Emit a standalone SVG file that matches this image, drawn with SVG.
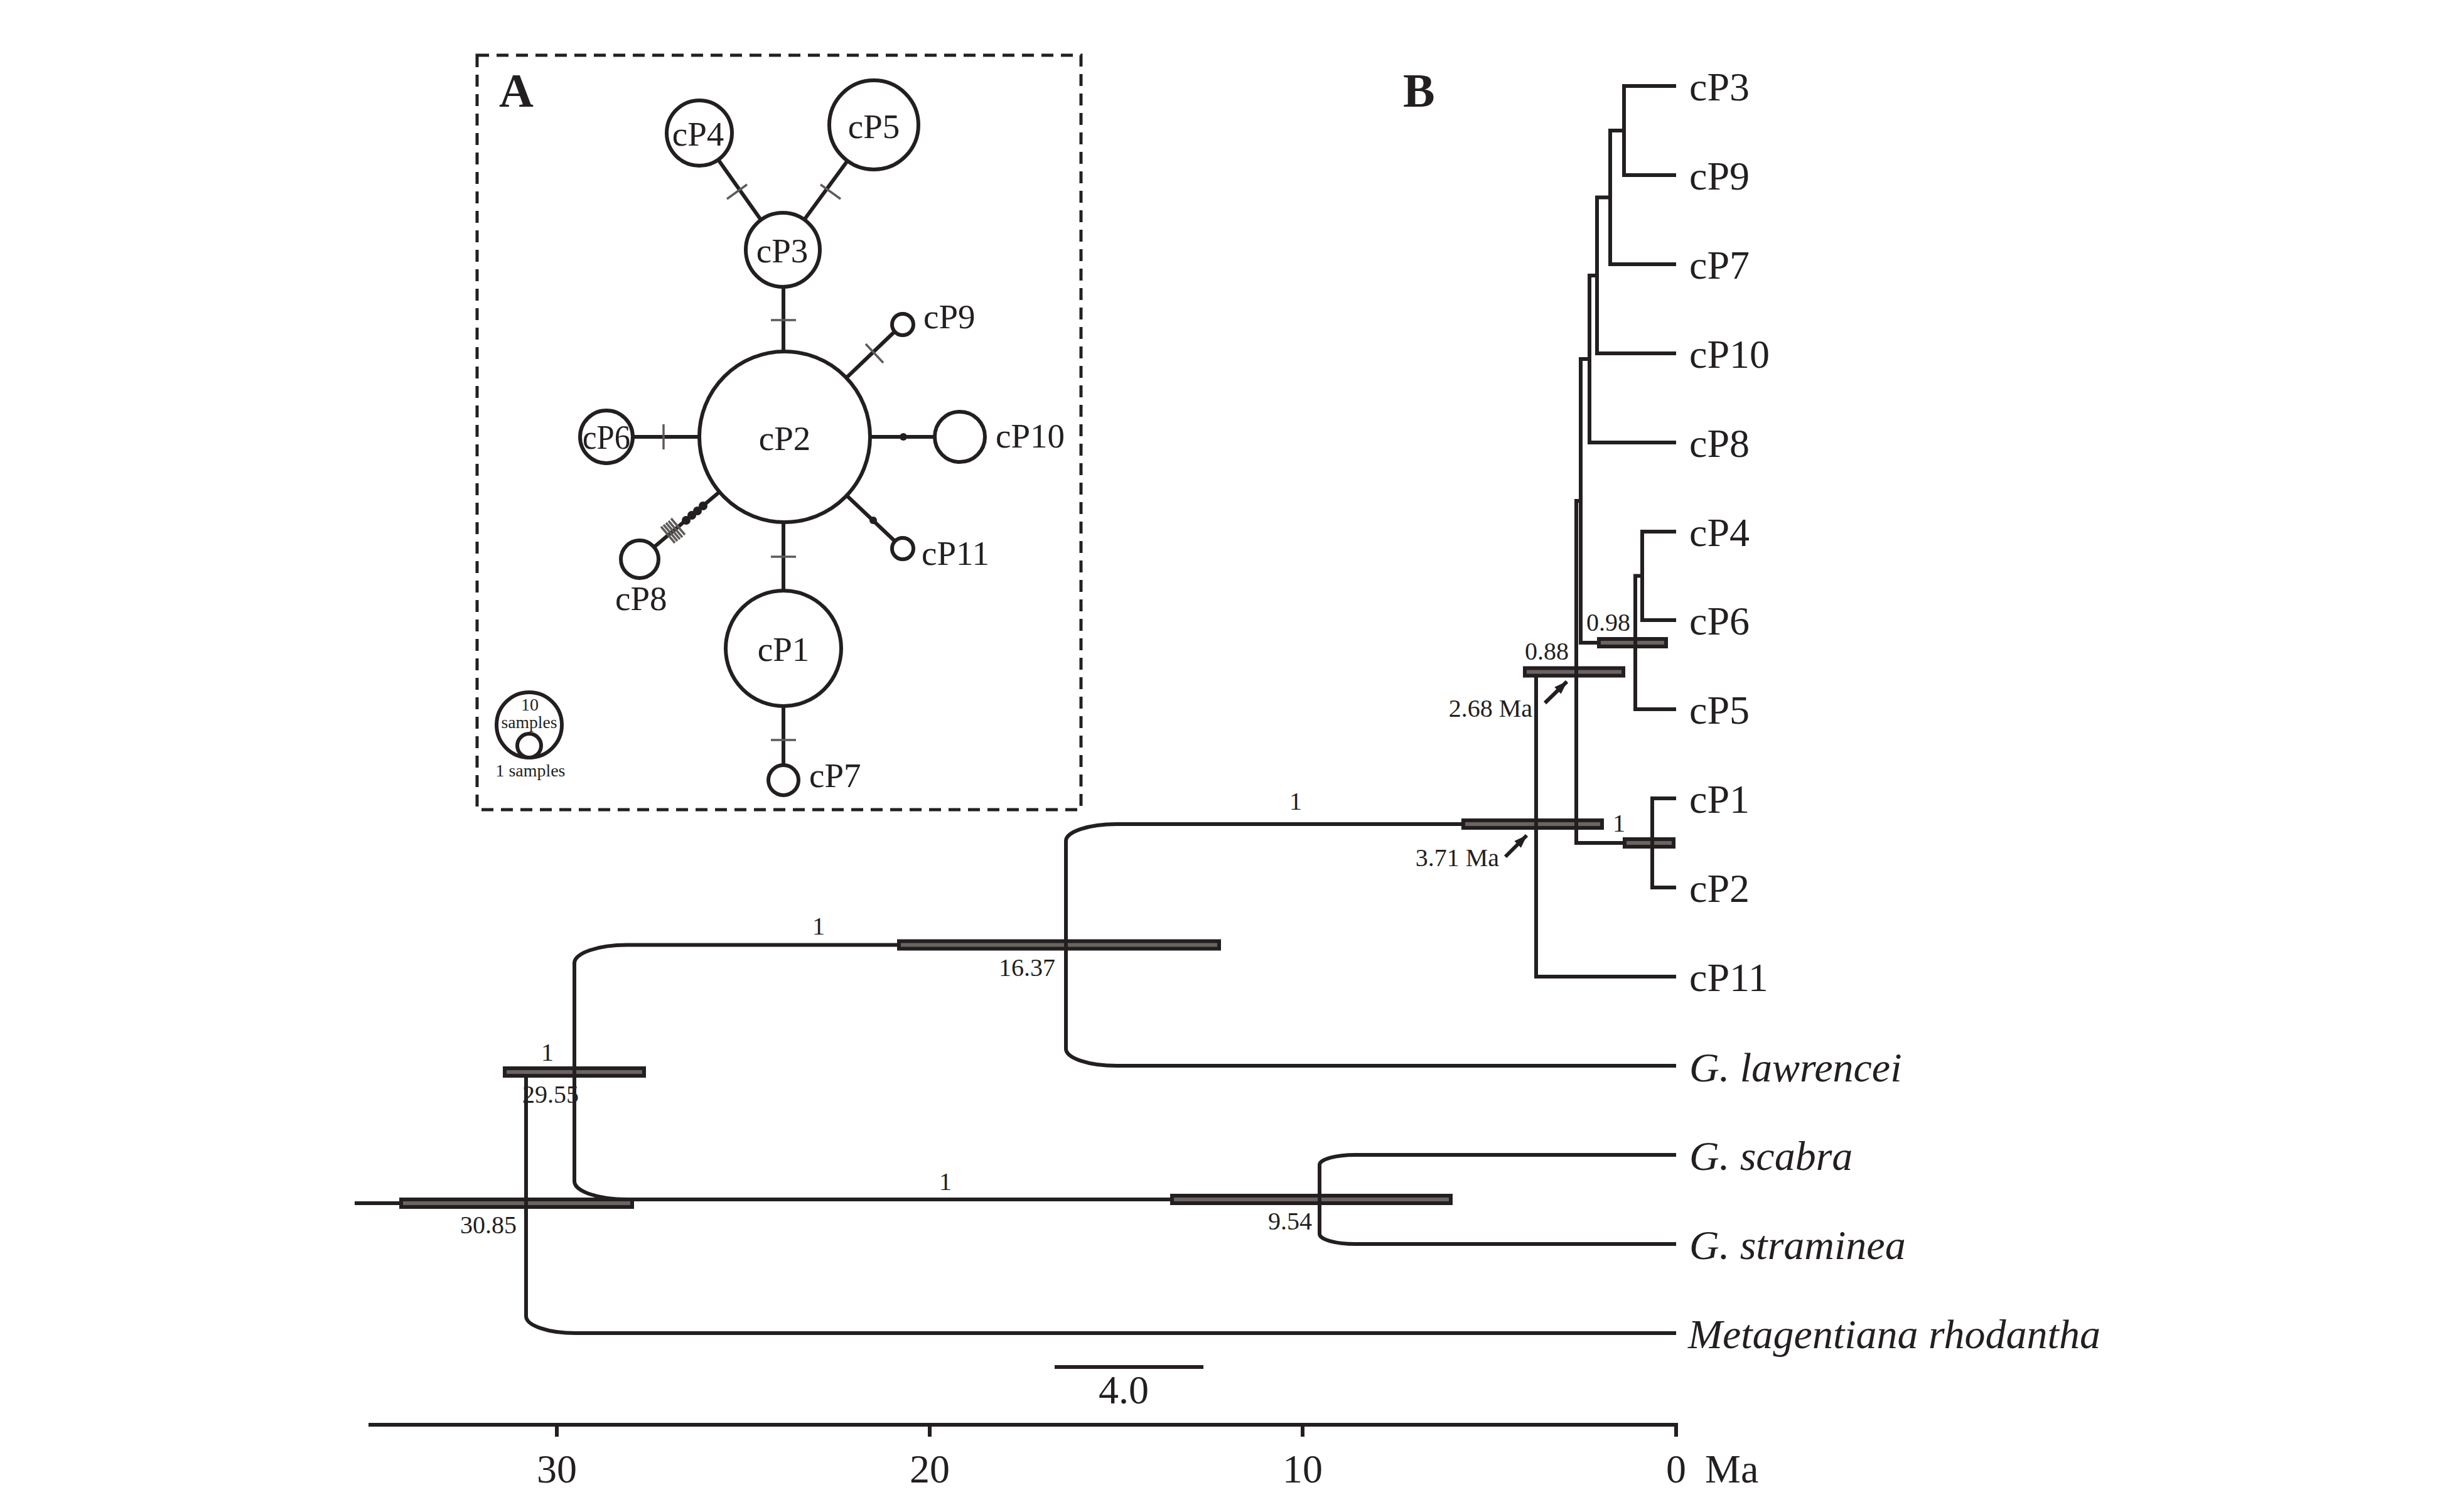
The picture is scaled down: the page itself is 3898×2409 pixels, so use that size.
<svg xmlns="http://www.w3.org/2000/svg" width="3898" height="2409" viewBox="0 0 3898 2409">
<defs>
<style>
.ln{fill:none;stroke:#231f20;stroke-width:6;stroke-linecap:butt;stroke-linejoin:miter}
.tk{stroke:#5e5a58;stroke-width:3.5}
.nd{fill:#fff;stroke:#231f20;stroke-width:6}
.bar{fill:#6b6461;stroke:#231f20;stroke-width:6}
.t{font-family:"Liberation Serif","Times New Roman",serif;fill:#231f20}
.net{font-size:55px}
.tip{font-size:64px}
.sp{font-size:66px;font-style:italic}
.num{font-size:40px}
.ax{font-size:64px}
.pl{font-size:76px;font-weight:bold}
.lg{font-size:28px}
</style>
<marker id="arrow" viewBox="0 0 20 14" refX="19" refY="7" markerWidth="22" markerHeight="15" orient="auto" markerUnits="userSpaceOnUse">
<path d="M0,0 L20,7 L0,14 z" fill="#231f20"/>
</marker>
</defs>
<rect width="3898" height="2409" fill="#fff"/>

<!-- Panel A frame -->
<rect x="760" y="88" width="962" height="1202" fill="none" stroke="#231f20" stroke-width="5" stroke-dasharray="19 12"/>
<text class="t pl" x="795" y="170">A</text>
<text class="t pl" x="2235" y="170">B</text>

<!-- Network connectors -->
<g id="network-edges">
<line class="ln" x1="1114" y1="212" x2="1246" y2="398"/>
<line class="ln" x1="1392" y1="199" x2="1246" y2="398"/>
<line class="ln" x1="1248" y1="398" x2="1248" y2="696"/>
<line class="ln" x1="1250" y1="696" x2="1438" y2="516"/>
<line class="ln" x1="966" y1="696" x2="1250" y2="696"/>
<line class="ln" x1="1250" y1="696" x2="1530" y2="696"/>
<line class="ln" x1="1250" y1="696" x2="1438" y2="874"/>
<line class="ln" x1="1250" y1="696" x2="1019" y2="891"/>
<line class="ln" x1="1248" y1="696" x2="1248" y2="1243"/>
<!-- mutation ticks -->
<line class="tk" x1="1158" y1="317" x2="1190" y2="294"/>
<line class="tk" x1="1307" y1="294" x2="1339" y2="317"/>
<line class="tk" x1="1228" y1="510" x2="1268" y2="510"/>
<line class="tk" x1="1379" y1="548" x2="1407" y2="578"/>
<line class="tk" x1="1057" y1="676" x2="1057" y2="716"/>
<line class="tk" x1="1228" y1="887" x2="1268" y2="887"/>
<line class="tk" x1="1228" y1="1179" x2="1268" y2="1179"/>
<!-- cP8 hash marks -->
<line class="tk" x1="1069" y1="826" x2="1091" y2="852"/>
<line class="tk" x1="1065" y1="830" x2="1087" y2="856"/>
<line class="tk" x1="1061" y1="833" x2="1083" y2="859"/>
<line class="tk" x1="1057" y1="836" x2="1079" y2="862"/>
<line class="tk" x1="1053" y1="839" x2="1075" y2="865"/>
<!-- median vector dots -->
<circle cx="1439" cy="696" r="6" fill="#231f20"/>
<circle cx="1391" cy="829" r="6" fill="#231f20"/>
<circle cx="1120" cy="806" r="7" fill="#231f20"/>
<circle cx="1111" cy="814" r="7" fill="#231f20"/>
<circle cx="1102" cy="821" r="7" fill="#231f20"/>
<circle cx="1093" cy="829" r="7" fill="#231f20"/>
</g>

<!-- Network nodes -->
<g id="hap-cP4"><circle class="nd" cx="1114" cy="212" r="52"/><text class="t net" x="1112" y="232" text-anchor="middle">cP4</text></g>
<g id="hap-cP5"><circle class="nd" cx="1392" cy="199" r="71"/><text class="t net" x="1392" y="220" text-anchor="middle">cP5</text></g>
<g id="hap-cP3"><circle class="nd" cx="1247" cy="398" r="59"/><text class="t net" x="1246" y="418" text-anchor="middle">cP3</text></g>
<g id="hap-cP2"><circle class="nd" cx="1250" cy="696" r="136"/><text class="t net" x="1250" y="717" text-anchor="middle">cP2</text></g>
<g id="hap-cP6"><circle class="nd" cx="966" cy="696" r="42"/><text class="t net" x="966" y="715" text-anchor="middle" textLength="76" lengthAdjust="spacingAndGlyphs">cP6</text></g>
<g id="hap-cP10"><circle class="nd" cx="1529" cy="696" r="40"/><text class="t net" x="1586" y="713">cP10</text></g>
<g id="hap-cP9"><circle class="nd" cx="1438" cy="517" r="17"/><text class="t net" x="1471" y="523">cP9</text></g>
<g id="hap-cP11"><circle class="nd" cx="1438" cy="874" r="17"/><text class="t net" x="1468" y="900">cP11</text></g>
<g id="hap-cP8"><circle class="nd" cx="1019" cy="891" r="30"/><text class="t net" x="980" y="972">cP8</text></g>
<g id="hap-cP1"><circle class="nd" cx="1248" cy="1033" r="92"/><text class="t net" x="1248" y="1053" text-anchor="middle">cP1</text></g>
<g id="hap-cP7"><circle class="nd" cx="1248" cy="1243" r="24"/><text class="t net" x="1289" y="1254">cP7</text></g>
<g id="legend">
<circle class="nd" cx="843" cy="1155" r="52"/>
<circle class="nd" cx="843" cy="1188" r="19"/>
<text class="t lg" x="844" y="1132" text-anchor="middle">10</text>
<text class="t lg" x="843" y="1160" text-anchor="middle" textLength="89" lengthAdjust="spacingAndGlyphs">samples</text>
<text class="t lg" x="845" y="1237" text-anchor="middle" textLength="111" lengthAdjust="spacingAndGlyphs">1 samples</text>
</g>

<!-- Tree connectors -->
<g id="tree-branches">
<path class="ln" d="M2670,137 H2587 V279 H2670"/>
<path class="ln" d="M2587,208 H2565 V421 H2670"/>
<path class="ln" d="M2565,314.5 H2544 V563 H2670"/>
<path class="ln" d="M2544,439 H2532 V705 H2670"/>
<path class="ln" d="M2532,572 H2518 V1024 H2605"/>
<path class="ln" d="M2670,847 H2616 V988 H2670"/>
<path class="ln" d="M2616,917.5 H2605 V1130 H2670"/>
<path class="ln" d="M2518,798 H2511 V1343 H2632"/>
<path class="ln" d="M2670,1272 H2632 V1414 H2670"/>
<path class="ln" d="M2511,1070.5 H2447 V1556 H2670"/>
<path class="ln" d="M2447,1313 H1779 A81,27 0 0 0 1698,1340 V1671 A81,27 0 0 0 1779,1698 H2670"/>
<path class="ln" d="M1698,1505.5 H999 A84,29 0 0 0 915,1534.5 V1882 A84,29 0 0 0 999,1911 H2102"/>
<path class="ln" d="M2670,1840 H2159 A57,16 0 0 0 2102,1856 V1966 A57,16 0 0 0 2159,1982 H2670"/>
<path class="ln" d="M915,1708 H838 V2097 A79,27 0 0 0 917,2124 H2670"/>
<path class="ln" d="M565,1917 H838"/>
</g>

<g id="hpd-bars">
<rect class="bar" x="639" y="1911" width="368" height="12"/>
<rect class="bar" x="804" y="1702" width="222" height="12"/>
<rect class="bar" x="1432" y="1499.5" width="510" height="12"/>
<rect class="bar" x="1867" y="1905" width="444" height="12"/>
<rect class="bar" x="2331" y="1307" width="221" height="12"/>
<rect class="bar" x="2429" y="1064.5" width="157" height="12"/>
<rect class="bar" x="2547" y="1018" width="107" height="12"/>
<rect class="bar" x="2588" y="1337" width="78" height="12"/>
</g>

<g id="bar-crossings">
<line class="ln" x1="838" y1="1905" x2="838" y2="1930"/>
<line class="ln" x1="915" y1="1700" x2="915" y2="1716"/>
<line class="ln" x1="1698" y1="1496" x2="1698" y2="1515"/>
<line class="ln" x1="2102" y1="1902" x2="2102" y2="1920"/>
<line class="ln" x1="2447" y1="1303" x2="2447" y2="1323"/>
<line class="ln" x1="2511" y1="1303" x2="2511" y2="1323"/>
<line class="ln" x1="2511" y1="1062" x2="2511" y2="1079"/>
<line class="ln" x1="2605" y1="1016" x2="2605" y2="1032"/>
<line class="ln" x1="2632" y1="1335" x2="2632" y2="1351"/>
<line class="ln" x1="2461" y1="1120" x2="2496" y2="1086" marker-end="url(#arrow)" stroke-width="3"/>
<line class="ln" x1="2398" y1="1365" x2="2432" y2="1331" marker-end="url(#arrow)" stroke-width="3"/>
</g>

<!-- Tree node labels -->
<g id="node-labels">
<text class="t num" x="2064" y="1290" text-anchor="middle">1</text>
<text class="t num" x="1304" y="1489" text-anchor="middle">1</text>
<text class="t num" x="872" y="1690" text-anchor="middle">1</text>
<text class="t num" x="1506" y="1896" text-anchor="middle">1</text>
<text class="t num" x="2579" y="1325" text-anchor="middle">1</text>
<text class="t num" x="877" y="1757" text-anchor="middle">29.55</text>
<text class="t num" x="778" y="1965" text-anchor="middle">30.85</text>
<text class="t num" x="1636" y="1555" text-anchor="middle">16.37</text>
<text class="t num" x="2055" y="1959" text-anchor="middle">9.54</text>
<text class="t num" x="2562" y="1005" text-anchor="middle">0.98</text>
<text class="t num" x="2464" y="1051" text-anchor="middle">0.88</text>
<text class="t num" x="2441" y="1142" text-anchor="end">2.68 Ma</text>
<text class="t num" x="2388" y="1380" text-anchor="end">3.71 Ma</text>
</g>

<!-- Tips -->
<g id="tip-cP3"><text class="t tip" x="2691" y="160">cP3</text></g>
<g id="tip-cP9"><text class="t tip" x="2691" y="302">cP9</text></g>
<g id="tip-cP7"><text class="t tip" x="2691" y="444">cP7</text></g>
<g id="tip-cP10"><text class="t tip" x="2691" y="586">cP10</text></g>
<g id="tip-cP8"><text class="t tip" x="2691" y="728">cP8</text></g>
<g id="tip-cP4"><text class="t tip" x="2691" y="870">cP4</text></g>
<g id="tip-cP6"><text class="t tip" x="2691" y="1011">cP6</text></g>
<g id="tip-cP5"><text class="t tip" x="2691" y="1153">cP5</text></g>
<g id="tip-cP1"><text class="t tip" x="2691" y="1295">cP1</text></g>
<g id="tip-cP2"><text class="t tip" x="2691" y="1437">cP2</text></g>
<g id="tip-cP11"><text class="t tip" x="2691" y="1579">cP11</text></g>
<g id="tip-lawrencei"><text class="t sp" x="2691" y="1723">G. lawrencei</text></g>
<g id="tip-scabra"><text class="t sp" x="2691" y="1864">G. scabra</text></g>
<g id="tip-straminea"><text class="t sp" x="2691" y="2006">G. straminea</text></g>
<g id="tip-metagentiana"><text class="t sp" x="2689" y="2148">Metagentiana rhodantha</text></g>

<!-- Scale bar -->
<g id="scale-bar">
<line class="ln" x1="1680" y1="2178" x2="1917" y2="2178"/>
<text class="t ax" x="1790" y="2236" text-anchor="middle">4.0</text>
</g>

<!-- Time axis -->
<g id="time-axis">
<line class="ln" x1="587" y1="2270" x2="2673" y2="2270" stroke-width="6"/>
<line class="ln" x1="887" y1="2270" x2="887" y2="2289"/>
<line class="ln" x1="1481" y1="2270" x2="1481" y2="2289"/>
<line class="ln" x1="2075" y1="2270" x2="2075" y2="2289"/>
<line class="ln" x1="2670" y1="2267" x2="2670" y2="2289"/>
<text class="t ax" x="887" y="2362" text-anchor="middle">30</text>
<text class="t ax" x="1481" y="2362" text-anchor="middle">20</text>
<text class="t ax" x="2075" y="2362" text-anchor="middle">10</text>
<text class="t ax" x="2670" y="2362" text-anchor="middle">0</text>
<text class="t ax" x="2716" y="2362">Ma</text>
</g>
</svg>
